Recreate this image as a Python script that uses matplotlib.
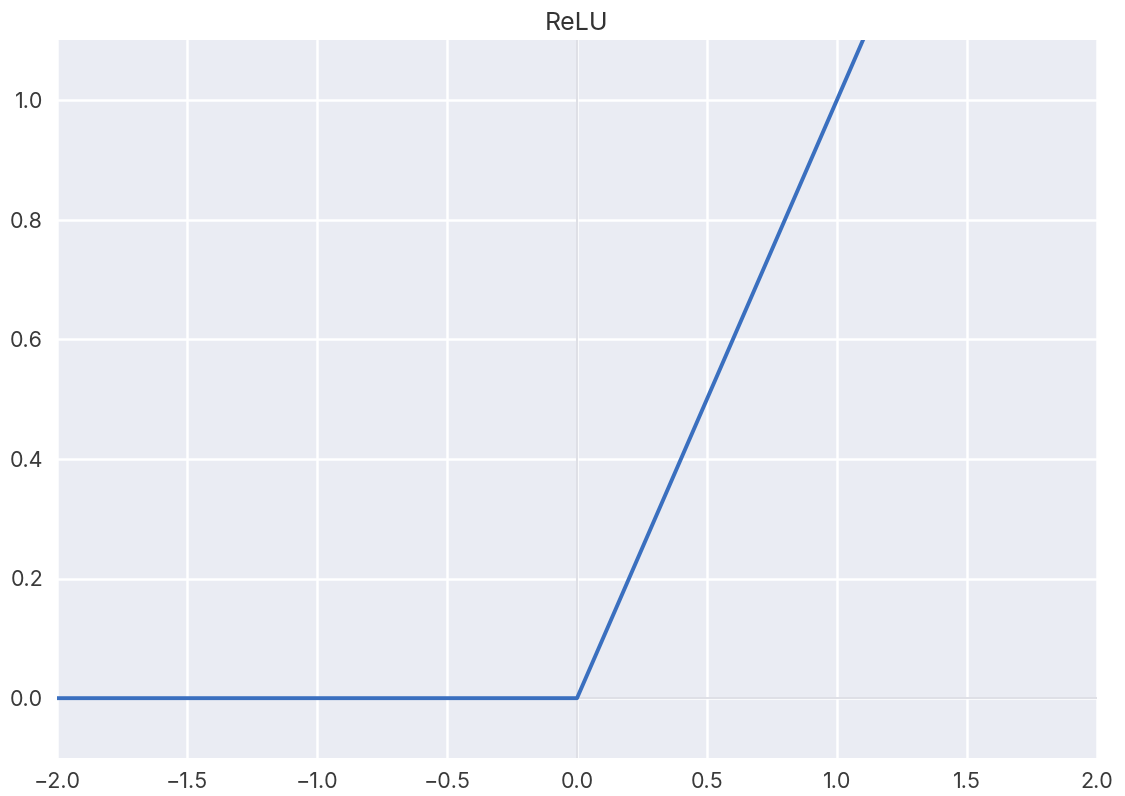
import matplotlib
matplotlib.use("Agg")
import matplotlib.pyplot as plt
import seaborn as sns

# ReLU sampled at its corners
x_vals = [-2.0, 0.0, 2.0]
relu_vals = [0.0, 0.0, 2.0]
x_ticks = [-2.0, -1.5, -1.0, -0.5, 0.0, 0.5, 1.0, 1.5, 2.0]
y_ticks = [0.0, 0.2, 0.4, 0.6, 0.8, 1.0]

sns.set_style("darkgrid")
plt.rcParams['font.family'] = ['Inter', 'DejaVu Sans']

fig = plt.figure(figsize=(11.25, 7.96), dpi=100)
ax = fig.add_axes([57/1125, 1 - 758/796, (1097-57)/1125, (758-40)/796])
ax.set_facecolor('#eaecf3')
ax.grid(True, color='white', linewidth=1.8)
ax.axhline(0, color='#dcdde4', linewidth=1.3, zorder=1)
ax.axvline(0, color='#dcdde4', linewidth=1.3, zorder=1)
ax.plot(x_vals, relu_vals, color='#3a6fbf', linewidth=2.8, zorder=3)
ax.set_xlim(-2, 2)
ax.set_ylim(-0.1, 1.1)
ax.set_xticks(x_ticks)
ax.set_yticks(y_ticks)
ax.tick_params(labelsize=15.5, colors='#3a3a3a', length=0, pad=10)
for s in ax.spines.values():
    s.set_visible(False)
ax.set_title('ReLU', fontsize=18, color='#333333', pad=7)

fig.savefig('out.png', dpi=100)
